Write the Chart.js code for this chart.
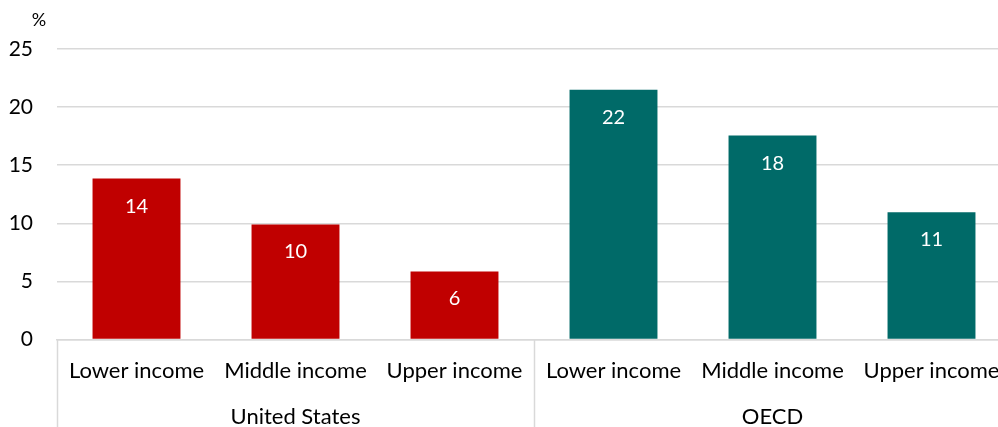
<!DOCTYPE html>
<html>
<head>
<meta charset="utf-8">
<script src="https://cdn.jsdelivr.net/npm/chart.js@4.4.1/dist/chart.umd.min.js"></script>
<style>
  html, body { margin: 0; padding: 0; background: #fff; overflow: hidden; width: 998px; height: 427px; }
  canvas { display: block; }
</style>
</head>
<body>
<canvas id="c" width="1012" height="427"></canvas>
<script>
// ---- data ----
const groups = ['United States', 'OECD'];
const groupSizes = [3, 3];
const categories = ['Lower income', 'Middle income', 'Upper income', 'Lower income', 'Middle income', 'Upper income'];
const values = [13.85, 9.9, 5.85, 21.5, 17.55, 10.95];
const yTicks = [0, 5, 10, 15, 20, 25];
const unitLabel = '%';

// group label axis: group name at the middle category of each group
const groupAxisLabels = [];
groups.forEach((g, gi) => {
  for (let k = 0; k < groupSizes[gi]; k++) {
    groupAxisLabels.push(k === Math.floor(groupSizes[gi] / 2) ? g : '');
  }
});
const groupColors = ['#C00000', '#006A68'];
const barColors = [];
groupSizes.forEach((n, gi) => { for (let k = 0; k < n; k++) barColors.push(groupColors[gi]); });

const FONT = 'Lato, "Open Sans", sans-serif';
const GRID = '#d9d9d9';

const extras = {
  id: 'extras',
  afterDatasetsDraw(chart) {
    const ctx = chart.ctx;
    const meta = chart.getDatasetMeta(0);
    ctx.save();
    ctx.fillStyle = '#ffffff';
    ctx.font = '20px ' + FONT;
    ctx.textAlign = 'center';
    ctx.textBaseline = 'middle';
    meta.data.forEach((el, i) => {
      ctx.fillText(String(Math.round(values[i])), el.x, el.y + 27.5);
    });
    ctx.restore();
  },
  afterDraw(chart) {
    const ctx = chart.ctx;
    const xs = chart.scales.x;
    const step = xs.getPixelForValue(1) - xs.getPixelForValue(0);
    ctx.save();
    ctx.strokeStyle = GRID;
    ctx.lineWidth = 1.5;
    let idx = 0;
    const bounds = [idx];
    groupSizes.forEach(n => { idx += n; bounds.push(idx); });
    bounds.forEach(b => {
      const px = Math.round(xs.getPixelForValue(b) - step / 2) + 0.5;
      ctx.beginPath();
      ctx.moveTo(px, chart.chartArea.bottom);
      ctx.lineTo(px, chart.height);
      ctx.stroke();
    });
    ctx.fillStyle = '#000';
    ctx.font = '18px ' + FONT;
    ctx.textAlign = 'center';
    ctx.textBaseline = 'middle';
    ctx.fillText(unitLabel, 39, 20);
    ctx.restore();
  }
};

new Chart(document.getElementById('c'), {
  type: 'bar',
  data: {
    labels: categories,
    datasets: [{
      data: values,
      backgroundColor: barColors,
      borderWidth: 0,
      categoryPercentage: 1,
      barPercentage: 0.553
    }]
  },
  options: {
    responsive: false,
    animation: false,
    devicePixelRatio: 1,
    layout: { padding: { top: 49, right: 1, left: 0, bottom: 0 } },
    plugins: { legend: { display: false }, tooltip: { enabled: false } },
    scales: {
      x: {
        type: 'category',
        position: 'bottom',
        offset: true,
        grid: { display: false, drawTicks: false },
        border: { display: true, color: GRID, width: 1.5 },
        ticks: { font: { family: FONT, size: 22 }, color: '#000', padding: 18, maxRotation: 0, autoSkip: false },
        afterFit(s) { s.height = 50; s.paddingLeft = 0; s.paddingRight = 0; }
      },
      x2: {
        type: 'category',
        position: 'bottom',
        labels: groupAxisLabels,
        offset: true,
        grid: { display: false, drawTicks: false },
        border: { display: false },
        ticks: { font: { family: FONT, size: 22 }, color: '#000', padding: 14, maxRotation: 0, autoSkip: false },
        afterFit(s) { s.height = 37.5; s.paddingLeft = 0; s.paddingRight = 0; }
      },
      y: {
        min: 0,
        max: 25,
        afterBuildTicks(s) { s.ticks = yTicks.map(v => ({ value: v })); },
        grid: { color: GRID, lineWidth: 1.5, drawTicks: false },
        border: { display: false },
        ticks: { font: { family: FONT, size: 21 }, color: '#000', padding: 24 },
        afterFit(s) { s.width = 57; }
      }
    }
  },
  plugins: [extras]
});
</script>
</body>
</html>
